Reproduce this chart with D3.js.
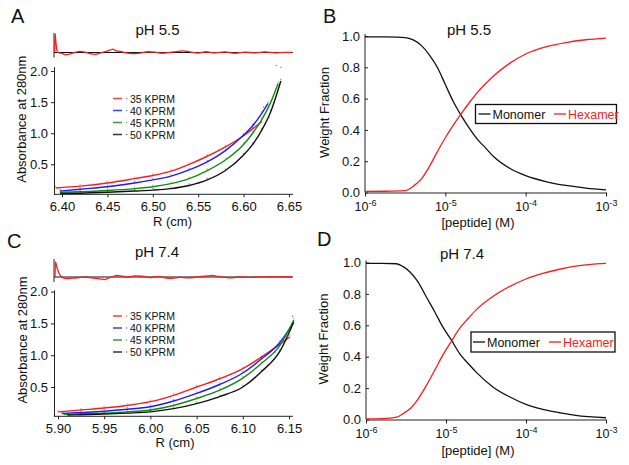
<!DOCTYPE html>
<html><head><meta charset="utf-8">
<script src="https://cdn.jsdelivr.net/npm/d3@7"></script>
<style>
body{margin:0;background:#fff}
svg{display:block}
text{font-family:"Liberation Sans",Arial,sans-serif;fill:#111}
.axis path,.axis line{stroke:#222;stroke-width:1}
</style>
</head><body>
<svg id="c" width="629" height="465"></svg>
<script>
// ---------------- DATA ----------------
const speedLabels = ["35 KPRM", "40 KPRM", "45 KPRM", "50 KPRM"];
const speedColors = ["#ff1a1a", "#1a1aff", "#138a13", "#111111"];

// Panel A (pH 5.5): radius (cm) and absorbance at 280 nm
const rA35 = [6.393, 6.42, 6.45, 6.48, 6.50, 6.52, 6.54, 6.56, 6.58, 6.60, 6.61, 6.62];
const aA35 = [0.12, 0.15, 0.20, 0.27, 0.32, 0.39, 0.50, 0.63, 0.78, 0.96, 1.07, 1.19];
const rA40 = [6.398, 6.42, 6.45, 6.48, 6.50, 6.52, 6.54, 6.56, 6.58, 6.60, 6.61, 6.62, 6.627];
const aA40 = [0.07, 0.10, 0.14, 0.20, 0.25, 0.31, 0.41, 0.54, 0.72, 0.97, 1.12, 1.32, 1.48];
const rA45 = [6.398, 6.42, 6.45, 6.48, 6.50, 6.52, 6.54, 6.56, 6.58, 6.60, 6.61, 6.62, 6.63, 6.638];
const aA45 = [0.05, 0.06, 0.08, 0.11, 0.14, 0.19, 0.27, 0.40, 0.57, 0.82, 1.00, 1.22, 1.50, 1.80];
const rA50 = [6.398, 6.42, 6.45, 6.48, 6.50, 6.52, 6.54, 6.56, 6.58, 6.60, 6.61, 6.62, 6.63, 6.641];
const aA50 = [0.03, 0.035, 0.05, 0.07, 0.085, 0.11, 0.16, 0.25, 0.40, 0.65, 0.82, 1.05, 1.35, 1.84];
const outliersA = [[6.636, 2.09], [6.641, 2.06], [6.622, 1.42], [6.628, 1.25]];

// Panel A residuals: [radius, residual]
const residA = [[6.392,0],[6.3923,0.10],[6.3934,0.05],[6.3945,0.01],[6.3956,0],[6.40,-0.005],[6.4044,-0.012],
  [6.4088,-0.008],[6.414,0],[6.4198,0.006],[6.4253,0.002],[6.4308,-0.006],[6.4363,-0.01],[6.4419,-0.003],
  [6.4474,0.004],[6.4529,0.012],[6.4562,0.018],[6.4595,0.008],[6.4639,0.006],[6.4705,-0.002],[6.4771,-0.006],
  [6.4859,-0.003],[6.4947,0.004],[6.5024,0.002],[6.5101,-0.004],[6.5189,0],[6.5278,0.006],[6.5333,0.009],
  [6.541,0.003],[6.5498,-0.003],[6.5586,0.004],[6.5685,-0.002],[6.5795,0.003],[6.5905,-0.004],[6.6015,0.002],
  [6.6126,-0.002],[6.6236,0.003],[6.6346,-0.002],[6.6456,0.001],[6.6533,0]];

// Panel C (pH 7.4)
const rC35 = [5.90, 5.925, 5.95, 5.975, 6.00, 6.025, 6.05, 6.075, 6.10, 6.12, 6.14, 6.151];
const aC35 = [0.11, 0.14, 0.17, 0.21, 0.27, 0.37, 0.50, 0.63, 0.79, 0.97, 1.17, 1.29];
const rC40 = [5.904, 5.925, 5.95, 5.975, 6.00, 6.025, 6.05, 6.075, 6.10, 6.12, 6.14, 6.153];
const aC40 = [0.085, 0.10, 0.12, 0.15, 0.19, 0.28, 0.40, 0.54, 0.72, 0.94, 1.20, 1.47];
const rC45 = [5.906, 5.925, 5.95, 5.975, 6.00, 6.025, 6.05, 6.075, 6.10, 6.12, 6.14, 6.155];
const aC45 = [0.07, 0.08, 0.09, 0.11, 0.14, 0.21, 0.32, 0.45, 0.64, 0.87, 1.15, 1.55];
const rC50 = [5.91, 5.925, 5.95, 5.975, 6.00, 6.025, 6.05, 6.075, 6.10, 6.12, 6.14, 6.155];
const aC50 = [0.06, 0.065, 0.075, 0.09, 0.11, 0.16, 0.24, 0.35, 0.50, 0.74, 1.06, 1.52];
const outliersC = [[6.154, 1.61], [6.148, 1.30], [6.135, 1.05]];

const residC = [[5.8968,0],[5.8973,0.08],[5.8989,0.05],[5.9011,0.02],[5.9032,0.005],[5.9054,-0.005],
  [5.9097,-0.008],[5.9152,-0.006],[5.9216,-0.004],[5.9292,0],[5.9368,-0.005],[5.9455,-0.01],[5.9509,-0.014],
  [5.9541,-0.006],[5.9584,0],[5.9639,0.008],[5.9693,0.004],[5.9758,0],[5.9833,0.006],[5.9909,0.004],
  [5.9996,-0.003],[6.0082,0.003],[6.0158,-0.004],[6.0234,-0.007],[6.032,-0.002],[6.0407,-0.005],
  [6.0494,-0.001],[6.0591,0.004],[6.0667,0.009],[6.0721,0.003],[6.0797,-0.002],[6.0883,-0.005],
  [6.097,0],[6.1078,-0.002],[6.1186,0.001],[6.1294,0],[6.1403,0.001],[6.1532,0]];

// Panels B and D: log10 of peptide concentration (M) and weight fractions
const logConcB = [-6, -5.75, -5.5, -5.4, -5.3, -5.2, -5.1, -5.0, -4.9, -4.8, -4.7, -4.6, -4.5, -4.4, -4.2, -4.0, -3.75, -3.5, -3.25, -3.0];
const monomerB = [0.995, 0.994, 0.99, 0.975, 0.94, 0.88, 0.80, 0.69, 0.58, 0.49, 0.41, 0.34, 0.285, 0.23, 0.155, 0.108, 0.07, 0.045, 0.028, 0.017];
const hexamerB = [0.007, 0.008, 0.012, 0.04, 0.085, 0.165, 0.26, 0.35, 0.43, 0.505, 0.575, 0.64, 0.695, 0.745, 0.825, 0.885, 0.93, 0.958, 0.976, 0.987];

const logConcD = [-6, -5.8, -5.62, -5.54, -5.45, -5.35, -5.245, -5.14, -5.04, -4.93, -4.83, -4.72, -4.62, -4.41, -4.2, -4.0, -3.79, -3.58, -3.38, -3.0];
const monomerD = [0.995, 0.995, 0.992, 0.975, 0.94, 0.877, 0.78, 0.685, 0.59, 0.504, 0.42, 0.355, 0.30, 0.206, 0.143, 0.096, 0.064, 0.043, 0.026, 0.011];
const hexamerD = [0.004, 0.006, 0.015, 0.036, 0.068, 0.13, 0.217, 0.315, 0.41, 0.50, 0.58, 0.645, 0.70, 0.785, 0.848, 0.895, 0.93, 0.957, 0.977, 0.994];

const yTicksAbs = [0.5, 1.0, 1.5, 2.0];
const xTicksA = [6.40, 6.45, 6.50, 6.55, 6.60, 6.65];
const xTicksC = [5.90, 5.95, 6.00, 6.05, 6.10, 6.15];
const yTicksWF = [0, 0.2, 0.4, 0.6, 0.8, 1.0];
const xTicksWF = [1e-6, 1e-5, 1e-4, 1e-3];
const speciesLabels = ["Monomer", "Hexamer"];
const speciesColors = ["#111111", "#ff1a1a"];

// ---------------- DRAW ----------------
const svg = d3.select("#c");
svg.append("rect").attr("width", 629).attr("height", 465).attr("fill", "#fff");

function label(x, y, txt, size, opts = {}) {
  const t = svg.append("text").attr("x", x).attr("y", y).attr("font-size", size).text(txt);
  if (opts.anchor) t.attr("text-anchor", opts.anchor);
  if (opts.fill) t.style("fill", opts.fill);
  if (opts.rotate) t.attr("transform", `rotate(-90,${x},${y})`);
  return t;
}

function sedPanel(cfg) {
  const x = d3.scaleLinear().domain(cfg.xDomain).range([54, 292]);
  const y = d3.scaleLinear().domain(cfg.yDomain).range(cfg.yRange);
  const g = svg.append("g");

  // residual panel
  const ry = d3.scaleLinear().domain([-0.1, 0.1]).range([cfg.resBase + 19, cfg.resBase - 19]);
  g.append("line").attr("x1", 54).attr("x2", 54).attr("y1", cfg.resTop).attr("y2", cfg.resBase + 5)
    .attr("stroke", "#222");
  g.append("line").attr("x1", 54).attr("x2", 293).attr("y1", ry(0)).attr("y2", ry(0))
    .attr("stroke", "#111").attr("stroke-width", 1.2);
  g.append("path").datum(cfg.resid)
    .attr("d", d3.line().x(d => x(d[0])).y(d => ry(d[1])).curve(d3.curveMonotoneX))
    .attr("fill", "none").attr("stroke", "#ff1a1a").attr("stroke-width", 1.3);

  // axes
  const yAxis = d3.axisLeft(y).tickValues(yTicksAbs).tickFormat(d3.format(".1f"))
    .tickSizeInner(3).tickSizeOuter(0).tickPadding(3);
  const gy = g.append("g").attr("class", "axis").attr("transform", "translate(54,0)").call(yAxis);
  gy.selectAll("text").attr("font-size", 13);
  const xAxis = d3.axisBottom(x).tickValues(cfg.xTicks).tickFormat(d3.format(".2f"))
    .tickSizeInner(3).tickSizeOuter(0).tickPadding(4);
  const gx = g.append("g").attr("class", "axis").attr("transform", `translate(0,${cfg.yRange[0]})`).call(xAxis);
  gx.selectAll("text").attr("font-size", 13);
  gx.select(".domain").attr("d", `M54,0H293`);

  // curves
  const line = d3.line().x(d => x(d[0])).y(d => y(d[1])).curve(d3.curveMonotoneX);
  cfg.series.forEach((s, i) => {
    const pts = s.r.map((r, k) => [r, s.a[k]]);
    g.append("path").datum(pts).attr("d", line).attr("fill", "none")
      .attr("stroke", speedColors[i]).attr("stroke-width", 1.4);
    g.selectAll(null).data(pts).enter().append("circle")
      .attr("cx", d => x(d[0])).attr("cy", d => y(d[1]) - 1.5).attr("r", 0.7)
      .attr("fill", speedColors[i]).attr("opacity", 0.5);
  });
  g.selectAll(null).data(cfg.outliers).enter().append("circle")
    .attr("cx", d => x(d[0])).attr("cy", d => y(d[1])).attr("r", 0.8)
    .attr("fill", "#666").attr("opacity", 0.7);

  // legend
  speedLabels.forEach((lab, i) => {
    const yy = cfg.legY + i * 12;
    g.append("line").attr("x1", 113).attr("x2", 122).attr("y1", yy).attr("y2", yy)
      .attr("stroke", speedColors[i]).attr("stroke-width", 1.5).attr("opacity", 0.85);
    g.append("circle").attr("cx", 126.5).attr("cy", yy).attr("r", 0.8).attr("fill", speedColors[i]).attr("opacity", 0.6);
    g.append("text").attr("x", 130).attr("y", yy + 4).attr("font-size", 10.5).text(lab);
  });
}

sedPanel({
  xDomain: [6.3912, 6.6533], yDomain: [0.018, 2.07], yRange: [194.3, 66.7],
  xTicks: xTicksA, resBase: 52.5, resTop: 33,
  resid: residA, outliers: outliersA, legY: 98.5,
  series: [{r: rA35, a: aA35}, {r: rA40, a: aA40}, {r: rA45, a: aA45}, {r: rA50, a: aA50}]
});
sedPanel({
  xDomain: [5.8957, 6.1532], yDomain: [0.04, 2.025], yRange: [416.3, 290],
  xTicks: xTicksC, resBase: 277, resTop: 259,
  resid: residC, outliers: outliersC, legY: 316,
  series: [{r: rC35, a: aC35}, {r: rC40, a: aC40}, {r: rC45, a: aC45}, {r: rC50, a: aC50}]
});

function wfPanel(cfg) {
  const x = d3.scaleLog().domain([1e-6, 1e-3]).range(cfg.xRange);
  const y = d3.scaleLinear().domain([0, 1]).range(cfg.yRange);
  const g = svg.append("g");
  const yAxis = d3.axisLeft(y).tickValues(yTicksWF).tickFormat(d3.format(".1f"))
    .tickSizeInner(-3).tickSizeOuter(0).tickPadding(5);
  const gy = g.append("g").attr("class", "axis").attr("transform", `translate(${cfg.xRange[0]},0)`).call(yAxis);
  gy.selectAll("text").attr("font-size", 13);
  gy.select(".domain").attr("d", `M0,${cfg.yRange[0]}V${cfg.yRange[1] - 2}`);
  const xAxis = d3.axisBottom(x).tickValues(xTicksWF).tickFormat(() => "")
    .tickSizeInner(4).tickSizeOuter(0).tickPadding(6);
  const gx = g.append("g").attr("class", "axis").attr("transform", `translate(0,${cfg.yRange[0]})`).call(xAxis);
  gx.selectAll(".tick text").each(function (d) {
    const t = d3.select(this).attr("font-size", 12.5);
    t.append("tspan").text("10");
    t.append("tspan").attr("dy", "-0.55em").attr("font-size", 9).text(String(Math.round(Math.log10(d))));
  });
  const line = d3.line().x(d => x(Math.pow(10, d[0]))).y(d => y(d[1])).curve(d3.curveMonotoneX);
  [cfg.mono, cfg.hexa].forEach((vals, i) => {
    g.append("path").datum(cfg.logc.map((c, k) => [c, vals[k]])).attr("d", line)
      .attr("fill", "none").attr("stroke", speciesColors[i]).attr("stroke-width", 1.3);
  });
  // legend
  const L = cfg.leg;
  g.append("rect").attr("x", L.x).attr("y", L.y).attr("width", L.w).attr("height", L.h)
    .attr("fill", "#fff").attr("stroke", "#111").attr("stroke-width", 1.3);
  speciesLabels.forEach((lab, i) => {
    const lx = L.items[i];
    g.append("line").attr("x1", lx).attr("x2", lx + 12).attr("y1", L.y + L.h / 2).attr("y2", L.y + L.h / 2)
      .attr("stroke", speciesColors[i]).attr("stroke-width", 1.3);
    g.append("text").attr("x", lx + 14).attr("y", L.y + L.h / 2 + 4.5).attr("font-size", 12.5)
      .style("fill", speciesColors[i]).text(lab);
  });
}

wfPanel({xRange: [365, 606], yRange: [192.5, 36], logc: logConcB, mono: monomerB, hexa: hexamerB,
  leg: {x: 475.5, y: 104.5, w: 141, h: 19, items: [478.5, 554]}});
wfPanel({xRange: [366, 606], yRange: [419.5, 262.5], logc: logConcD, mono: monomerD, hexa: hexamerD,
  leg: {x: 471, y: 332, w: 144, h: 20, items: [473, 549]}});

// titles & labels
label(11, 23, "A", 20);
label(323, 23, "B", 20);
label(7, 248, "C", 20);
label(317, 246, "D", 20);
label(157.5, 34.5, "pH 5.5", 15, {anchor: "middle"});
label(469, 34.5, "pH 5.5", 15, {anchor: "middle"});
label(157, 257.4, "pH 7.4", 15, {anchor: "middle"});
label(462, 259, "pH 7.4", 15, {anchor: "middle"});
label(26, 119.2, "Absorbance at 280nm", 13, {anchor: "middle", rotate: true});
label(26.5, 340, "Absorbance at 280nm", 13, {anchor: "middle", rotate: true});
label(329, 112.5, "Weight Fraction", 13, {anchor: "middle", rotate: true});
label(328, 339, "Weight Fraction", 13, {anchor: "middle", rotate: true});
label(172.5, 226, "R (cm)", 13, {anchor: "middle"});
label(175, 447, "R (cm)", 13, {anchor: "middle"});
label(478, 226.5, "[peptide] (M)", 13, {anchor: "middle"});
label(478, 455, "[peptide] (M)", 13, {anchor: "middle"});
</script>
</body></html>
